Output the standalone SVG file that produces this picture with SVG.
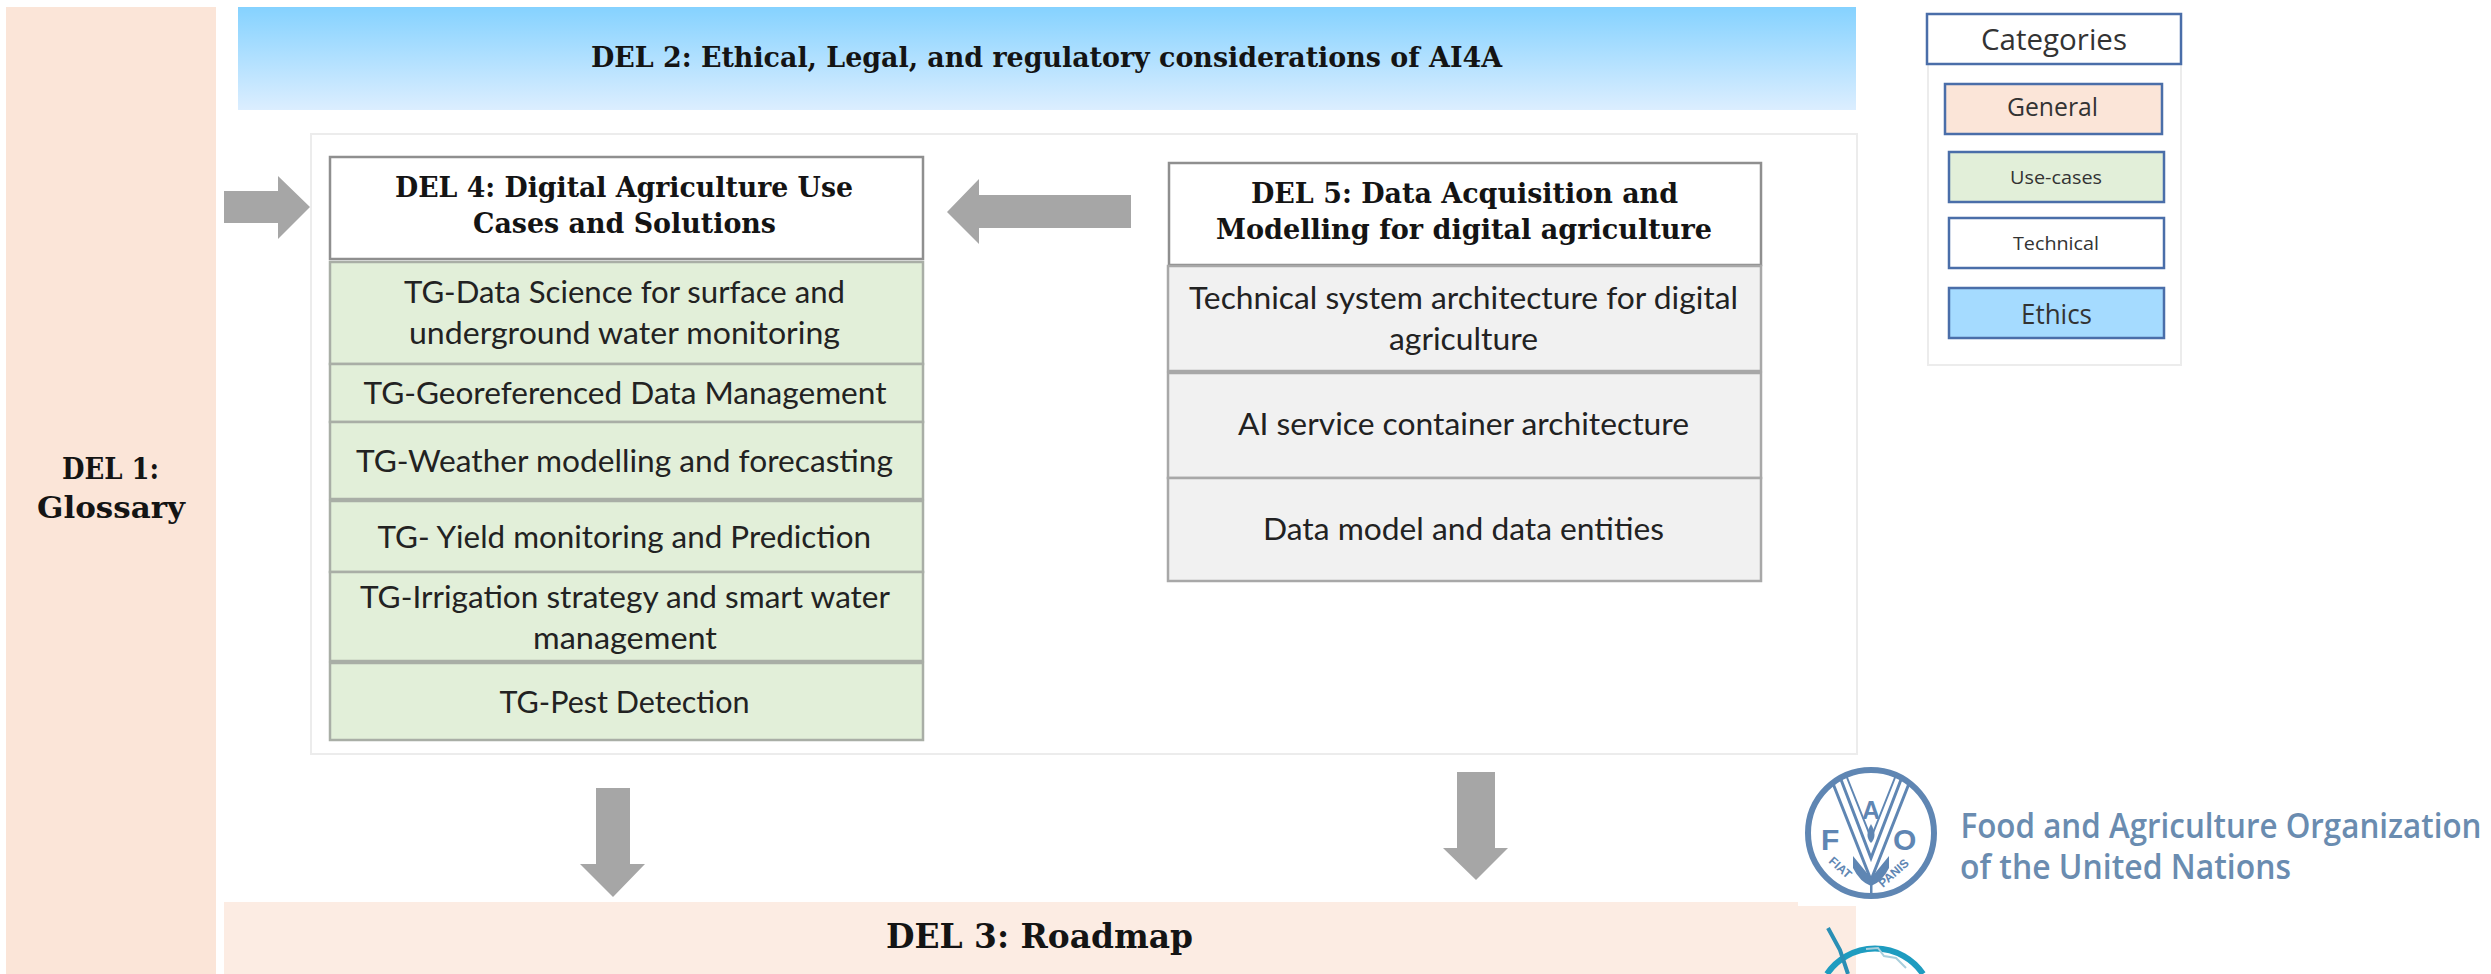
<svg xmlns="http://www.w3.org/2000/svg" width="2491" height="974" viewBox="0 0 2491 974">
<style>
text{text-anchor:start}
.h{font-family:"DejaVu Serif Condensed","DejaVu Serif","Liberation Serif",serif;font-weight:700;fill:#141414}
.b{font-family:"Lato","Open Sans","Liberation Sans",sans-serif;fill:#222;font-size:31px}
.l{font-family:"Open Sans","Lato","Liberation Sans",sans-serif;fill:#333}
.g{fill:#e2efd9;stroke:#a9aea6;stroke-width:2.5}
.t{fill:#f1f1f1;stroke:#a8a8a8;stroke-width:2.5}
.w{fill:#fff;stroke:#8f8f8f;stroke-width:2.5}
.k{stroke:#4a6ea9;stroke-width:2.5}
.a{fill:#a6a6a6}
.fao{font-family:"Open Sans","Noto Sans","Liberation Sans",sans-serif;font-weight:600;fill:#6a8cb0}
.m{font-family:"Liberation Sans",sans-serif;font-weight:700;fill:#5f86b3}
</style>
<defs>
<linearGradient id="sky" x1="0" y1="0" x2="0" y2="1"><stop offset="0" stop-color="#85d2ff"/><stop offset="1" stop-color="#dceeff"/></linearGradient>
</defs>
<rect width="2491" height="974" fill="#fff"/>

<g id="del1">
<rect x="6" y="7" width="210" height="967" fill="#fbe5d8"/>
<text class="h" x="62" y="479" font-size="30" textLength="97" lengthAdjust="spacingAndGlyphs">DEL 1:</text>
<text class="h" x="37" y="518" font-size="30" textLength="148" lengthAdjust="spacingAndGlyphs">Glossary</text>
</g>

<g id="del2">
<rect x="238" y="7" width="1618" height="103" fill="url(#sky)"/>
<text class="h" x="591" y="67" font-size="28" textLength="911" lengthAdjust="spacingAndGlyphs">DEL 2: Ethical, Legal, and regulatory considerations of AI4A</text>
</g>

<rect id="panel" x="311" y="134" width="1546" height="620" fill="#fff" stroke="#ececec" stroke-width="2"/>

<g id="del3">
<rect x="224" y="902" width="1574" height="72" fill="#fcece3"/>
<rect x="1798" y="906" width="58" height="68" fill="#fcece3"/>
<text class="h" x="886" y="948" font-size="33" textLength="307" lengthAdjust="spacingAndGlyphs">DEL 3: Roadmap</text>
</g>

<g id="del4">
<rect class="w" x="330" y="157" width="593" height="102"/>
<text class="h" x="395" y="197" font-size="28" textLength="458" lengthAdjust="spacingAndGlyphs">DEL 4: Digital Agriculture Use</text>
<text class="h" x="473" y="233" font-size="28" textLength="303" lengthAdjust="spacingAndGlyphs">Cases and Solutions</text>
</g>
<g id="tg-water">
<rect class="g" x="330" y="262" width="593" height="102"/>
<text class="b" x="404" y="303" textLength="441" lengthAdjust="spacingAndGlyphs">TG-Data Science for surface and</text>
<text class="b" x="409" y="344" textLength="431" lengthAdjust="spacingAndGlyphs">underground water monitoring</text>
</g>
<g id="tg-geo">
<rect class="g" x="330" y="364" width="593" height="58"/>
<text class="b" x="363.500" y="404" textLength="523" lengthAdjust="spacingAndGlyphs">TG-Georeferenced Data Management</text>
</g>
<g id="tg-weather">
<rect class="g" x="330" y="422" width="593" height="77"/>
<text class="b" x="356" y="472" textLength="537" lengthAdjust="spacingAndGlyphs">TG-Weather modelling and forecasting</text>
</g>
<g id="tg-yield">
<rect class="g" x="330" y="501" width="593" height="71"/>
<text class="b" x="377.500" y="548" textLength="493.500" lengthAdjust="spacingAndGlyphs">TG- Yield monitoring and Prediction</text>
</g>
<g id="tg-irrigation">
<rect class="g" x="330" y="572" width="593" height="89"/>
<text class="b" x="360" y="608" textLength="530" lengthAdjust="spacingAndGlyphs">TG-Irrigation strategy and smart water</text>
<text class="b" x="533" y="649" textLength="184" lengthAdjust="spacingAndGlyphs">management</text>
</g>
<g id="tg-pest">
<rect class="g" x="330" y="663" width="593" height="77"/>
<text class="b" x="499.500" y="713" textLength="250" lengthAdjust="spacingAndGlyphs">TG-Pest Detection</text>
</g>

<g id="del5">
<rect class="w" x="1169" y="163" width="592" height="102"/>
<text class="h" x="1251" y="203" font-size="28" textLength="427" lengthAdjust="spacingAndGlyphs">DEL 5:  Data Acquisition and</text>
<text class="h" x="1216" y="239" font-size="28" textLength="496" lengthAdjust="spacingAndGlyphs">Modelling for digital agriculture</text>
</g>
<g id="tech-arch">
<rect class="t" x="1168" y="266" width="593" height="105"/>
<text class="b" x="1189" y="309" textLength="549" lengthAdjust="spacingAndGlyphs">Technical system architecture for digital</text>
<text class="b" x="1389" y="350" textLength="149" lengthAdjust="spacingAndGlyphs">agriculture</text>
</g>
<g id="ai-service">
<rect class="t" x="1168" y="373" width="593" height="105"/>
<text class="b" x="1238" y="435" textLength="451" lengthAdjust="spacingAndGlyphs">AI service container architecture</text>
</g>
<g id="data-model">
<rect class="t" x="1168" y="478" width="593" height="103"/>
<text class="b" x="1263" y="540" textLength="401" lengthAdjust="spacingAndGlyphs">Data model and data entities</text>
</g>

<g id="connectors">
<polygon class="a" points="224,191 278,191 278,176 310,207 278,239 278,223 224,223"/>
<polygon class="a" points="1131,195 979,195 979,179 947,212 979,244 979,228 1131,228"/>
<polygon class="a" points="596,788 630,788 630,864 645,864 613,897 580,864 596,864"/>
<polygon class="a" points="1457,772 1495,772 1495,848 1508,848 1476,880 1443,848 1457,848"/>
</g>

<g id="legend">
<rect x="1928" y="40" width="253" height="325" fill="#fff" stroke="#ececec" stroke-width="2"/>
<g id="cat-title"><rect class="k" x="1927" y="14" width="254" height="50" fill="#fff"/>
<text class="l" x="1981" y="50" font-size="29" textLength="146" lengthAdjust="spacingAndGlyphs">Categories</text></g>
<g id="cat-general"><rect class="k" x="1945" y="84" width="217" height="50" fill="#fbe5d8"/>
<text class="l" x="2007" y="116" font-size="25" textLength="91" lengthAdjust="spacingAndGlyphs">General</text></g>
<g id="cat-use"><rect class="k" x="1949" y="152" width="215" height="50" fill="#e2efd9"/>
<text class="l" x="2010" y="184" font-size="18" textLength="92" lengthAdjust="spacingAndGlyphs">Use-cases</text></g>
<g id="cat-tech"><rect class="k" x="1949" y="218" width="215" height="50" fill="#fff"/>
<text class="l" x="2013" y="250" font-size="18" textLength="86" lengthAdjust="spacingAndGlyphs">Technical</text></g>
<g id="cat-ethics"><rect class="k" x="1949" y="288" width="215" height="50" fill="#a5dbff"/>
<text class="l" x="2021" y="324" font-size="28" textLength="71" lengthAdjust="spacingAndGlyphs">Ethics</text></g>
</g>

<g id="fao-logo">
<circle cx="1871" cy="833" r="63" fill="#fff" stroke="#5f86b3" stroke-width="6"/>
<path d="M1832 781 L1871 880 L1910 781" fill="none" stroke="#5f86b3" stroke-width="3"/>
<path d="M1840 777 L1871 858 L1902 777" fill="none" stroke="#5f86b3" stroke-width="3"/>
<path d="M1846 775 L1871 838 L1896 775" fill="none" stroke="#5f86b3" stroke-width="2"/>
<path d="M1853 856 L1871 878 L1889 856 L1889 868 Q1882 882 1871 886 Q1860 882 1853 868Z" fill="#5f86b3"/>
<path d="M1871 824 Q1878 836 1871 843 Q1864 836 1871 824Z" fill="#5f86b3"/>
<rect x="1870" y="880" width="2.500" height="17" fill="#5f86b3"/>
<text class="m" x="1862" y="819" font-size="25">A</text>
<text class="m" x="1821" y="850" font-size="30">F</text>
<text class="m" x="1893" y="850" font-size="30">O</text>
<text class="m" font-size="12" transform="translate(1828,862) rotate(42)">FIAT</text>
<text class="m" font-size="12" transform="translate(1883,888) rotate(-42)">PANIS</text>
<text class="fao" x="1960.500" y="838" font-size="35" textLength="521" lengthAdjust="spacingAndGlyphs">Food and Agriculture Organization</text>
<text class="fao" x="1960" y="879" font-size="35" textLength="331" lengthAdjust="spacingAndGlyphs">of the United Nations</text>
</g>

<g id="globe-logo">
<path d="M1827 974 A58 58 0 0 1 1923 974" fill="none" stroke="#1e9cc0" stroke-width="6"/>
<path d="M1828 928 L1840 950 L1848 974" fill="none" stroke="#2a8fb5" stroke-width="4"/>
<path d="M1866 949 L1878 948 L1884 956 L1896 958 L1906 968" fill="none" stroke="#a9cfdc" stroke-width="2"/>
</g>
</svg>
